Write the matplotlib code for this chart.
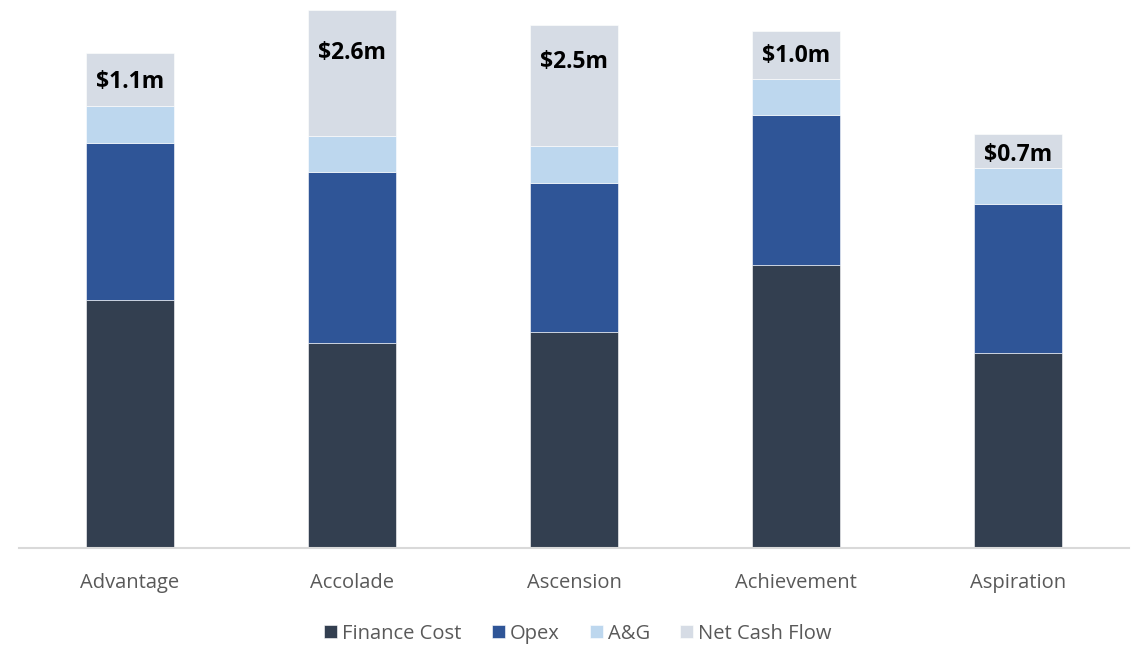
import matplotlib
matplotlib.use("Agg")
import matplotlib.pyplot as plt
import numpy as np

categories = ["Advantage", "Accolade", "Ascension", "Achievement", "Aspiration"]
finance_cost = [5.11, 4.23, 4.45, 5.84, 4.02]
opex = [3.24, 3.53, 3.09, 3.09, 3.07]
a_and_g = [0.76, 0.74, 0.75, 0.74, 0.75]
net_cash_flow = [1.1, 2.6, 2.5, 1.0, 0.7]

series = [
    ("Finance Cost", finance_cost, "#333F50"),
    ("Opex", opex, "#2F5597"),
    ("A&G", a_and_g, "#BDD7EE"),
    ("Net Cash Flow", net_cash_flow, "#D6DCE5"),
]

# label drop below the bar top, in pixels
label_drop = [29, 43, 37, 25, 21]

plt.rcParams["font.family"] = ["Open Sans", "DejaVu Sans"]

fig = plt.figure(figsize=(11.33, 6.46), dpi=100)
ax = fig.add_axes([0.0168, 0.1517, 0.9797, 0.8403])

x = np.arange(len(categories))
bottom = np.zeros(len(categories))
handles = []
for name, vals, color in series:
    b = ax.bar(x, vals, width=0.4, bottom=bottom, color=color,
               edgecolor="white", linewidth=0.4, label=name)
    handles.append(b)
    bottom = bottom + np.array(vals)

for i, v in enumerate(net_cash_flow):
    ax.annotate(f"${v:.1f}m", xy=(x[i], bottom[i]),
                xytext=(0, -label_drop[i]), textcoords="offset pixels",
                ha="center", va="center", fontsize=16.5, fontweight="bold",
                color="black")

ax.set_xlim(-0.5, 4.5)
ax.set_ylim(0, 11.2)
ax.set_xticks(x)
ax.set_xticklabels(categories, fontsize=14.5, color="#595959")
ax.tick_params(axis="x", length=0, pad=18)
ax.set_yticks([])
for s in ["top", "right", "left"]:
    ax.spines[s].set_visible(False)
ax.spines["bottom"].set_color("#D9D9D9")
ax.spines["bottom"].set_linewidth(1.5)

leg = fig.legend(handles=handles, labels=[s[0] for s in series],
                 loc="center", bbox_to_anchor=(0.51, 0.019), ncol=4,
                 frameon=False, fontsize=14.5, handlelength=0.65,
                 handleheight=0.65, handletextpad=0.25, columnspacing=1.5)
for t in leg.get_texts():
    t.set_color("#595959")

fig.savefig("out.png", dpi=100)
